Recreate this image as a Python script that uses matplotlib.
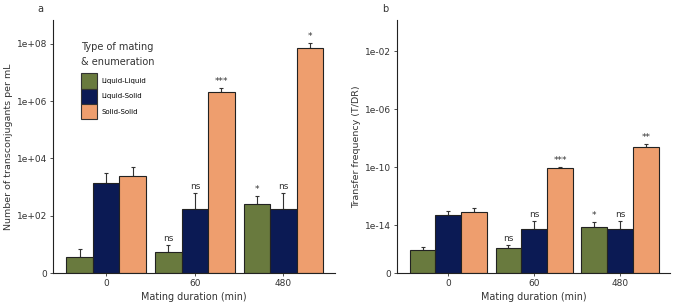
import numpy as np
import matplotlib
matplotlib.use('Agg')
import matplotlib.pyplot as plt
from matplotlib.patches import Patch

durations = ['0', '60', '480']
groups = ['Liquid-Liquid', 'Liquid-Solid', 'Solid-Solid']
colors = ['#697A3E', '#0B1A54', '#EE9E6E']

# panel a: transconjugants per mL (mean, upper error tip)
tc_mean = {
    'Liquid-Liquid': [3.2, 5.2, 252],
    'Liquid-Solid': [1435, 170, 170],
    'Solid-Solid': [2450, 2.0e6, 7.2e7],
}
tc_upper = {
    'Liquid-Liquid': [6.5, 9.6, 490],
    'Liquid-Solid': [2960, 615, 615],
    'Solid-Solid': [4900, 2.75e6, 1.07e8],
}
tc_sig = {
    'Liquid-Liquid': ['', 'ns', '*'],
    'Liquid-Solid': ['', 'ns', 'ns'],
    'Solid-Solid': ['', '***', '*'],
}

# panel b: transfer frequency (T/DR)
tf_mean = {
    'Liquid-Liquid': [2.0e-16, 2.65e-16, 8.1e-15],
    'Liquid-Solid': [4.7e-14, 5.7e-15, 5.7e-15],
    'Solid-Solid': [8.1e-14, 9.5e-11, 2.45e-9],
}
tf_upper = {
    'Liquid-Liquid': [3.1e-16, 4.0e-16, 1.65e-14],
    'Liquid-Solid': [1.0e-13, 2.0e-14, 2.0e-14],
    'Solid-Solid': [1.66e-13, 1.1e-10, 4.0e-9],
}
tf_sig = {
    'Liquid-Liquid': ['', 'ns', '*'],
    'Liquid-Solid': ['', 'ns', 'ns'],
    'Solid-Solid': ['', '***', '**'],
}

yticks_a = [0, 1e2, 1e4, 1e6, 1e8]
ylabels_a = ['0', '1e+02', '1e+04', '1e+06', '1e+08']
yticks_b = [0, 1e-14, 1e-10, 1e-06, 1e-02]
ylabels_b = ['0', '1e-14', '1e-10', '1e-06', '1e-02']


def pseudo_log(sigma):
    def fwd(y):
        return np.arcsinh(np.asarray(y, dtype=float) / (2 * sigma)) / np.log(10)

    def inv(y):
        return 2 * sigma * np.sinh(np.asarray(y, dtype=float) * np.log(10))
    return fwd, inv


def draw(ax, means, uppers, sigs, sigma, ytop, ticks, labels, ylabel):
    ax.set_yscale('function', functions=pseudo_log(sigma))
    x = np.arange(len(durations))
    w = 0.3
    for i, g in enumerate(groups):
        xs = x + (i - 1) * w
        m = np.array(means[g])
        up = np.array(uppers[g])
        ax.bar(xs, m, width=w, color=colors[i], edgecolor='#222222',
               linewidth=0.8, zorder=2)
        ax.errorbar(xs, m, yerr=[np.zeros_like(m), up - m], fmt='none',
                    ecolor='#333333', elinewidth=0.8, capsize=1.6,
                    capthick=0.8, zorder=1)
        for xi, u, s in zip(xs, up, sigs[g]):
            if s:
                ax.annotate(s, xy=(xi, u), xytext=(0, 1.5),
                            textcoords='offset points', ha='center',
                            va='bottom', fontsize=6.5, color='#333333')
    ax.set_xlim(-0.6, 2.58)
    ax.set_ylim(0, ytop)
    ax.set_yticks(ticks)
    ax.set_yticklabels(labels)
    ax.set_xticks(x)
    ax.set_xticklabels(durations)
    ax.yaxis.set_minor_locator(matplotlib.ticker.NullLocator())
    for s in ['top', 'right']:
        ax.spines[s].set_visible(False)
    for s in ['left', 'bottom']:
        ax.spines[s].set_linewidth(0.8)
        ax.spines[s].set_color('#222222')
    ax.tick_params(labelsize=6.5, length=2.5, width=0.6, colors='#333333',
                   pad=1.5)
    ax.set_xlabel('Mating duration (min)', fontsize=6.9, color='#333333',
                  labelpad=3)
    ax.set_ylabel(ylabel, fontsize=6.8, color='#333333', labelpad=3)


fig = plt.figure(figsize=(6.76, 3.03), dpi=100)
ax1 = fig.add_axes([0.0784, 0.099, 0.417, 0.835])
ax2 = fig.add_axes([0.587, 0.099, 0.404, 0.835])

draw(ax1, tc_mean, tc_upper, tc_sig, 1.0, 6.7e8, yticks_a, ylabels_a,
     'Number of transconjugants per mL')
draw(ax2, tf_mean, tf_upper, tf_sig, 5e-18, 1.5, yticks_b, ylabels_b,
     'Transfer frequency (T/DR)')

fig.text(0.055, 0.96, 'a', fontsize=7, color='#333333')
fig.text(0.566, 0.96, 'b', fontsize=7, color='#333333')

handles = [Patch(facecolor=c, edgecolor='#333333', linewidth=0.8)
           for c in colors]
leg = ax1.legend(handles, groups, title='Type of mating\n& enumeration',
                 loc='upper left', bbox_to_anchor=(0.09, 0.925), frameon=False,
                 fontsize=5, title_fontsize=7, handlelength=2.3,
                 handleheight=3.0, labelspacing=0.0, handletextpad=0.6,
                 borderaxespad=0)
leg._legend_box.align = 'left'
leg._legend_box.sep = 5
leg.get_title().set_linespacing(1.6)
leg.get_title().set_color('#333333')

fig.savefig('out.png', dpi=100)
